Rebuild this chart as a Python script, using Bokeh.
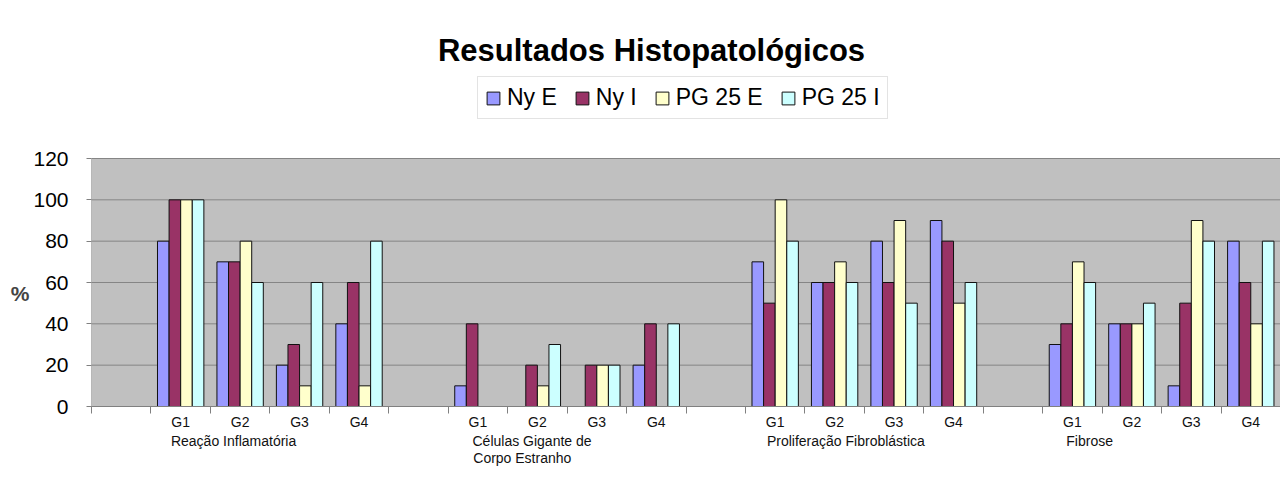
import math
from bokeh.plotting import figure
from bokeh.models import (ColumnDataSource, Range1d, LinearAxis,
                          FixedTicker, Legend, LegendItem, Label)
from bokeh.transform import dodge
from bokeh.embed import file_html
from bokeh.resources import INLINE

# ---------------- data ----------------
title = "Resultados Histopatológicos"
groups = ["Reação Inflamatória", "Células Gigante de\nCorpo Estranho",
          "Proliferação Fibroblástica", "Fibrose"]
grades = ["G1", "G2", "G3", "G4"]
series = ["Ny E", "Ny I", "PG 25 E", "PG 25 I"]
# values per series, in order group x grade (G1..G4 for each group)
ny_e = [80, 70, 20, 40, 10, 0, 0, 20, 70, 60, 80, 90, 30, 40, 10, 80]
ny_i = [100, 70, 30, 60, 40, 20, 20, 40, 50, 60, 60, 80, 40, 40, 50, 60]
pg_e = [100, 80, 10, 10, 0, 10, 20, 0, 100, 70, 90, 50, 70, 40, 90, 40]
pg_i = [100, 60, 60, 80, 0, 30, 20, 40, 80, 60, 50, 60, 60, 50, 80, 80]
y_ticks = [0, 20, 40, 60, 80, 100, 120]

values = [ny_e, ny_i, pg_e, pg_i]
colors = ["#9999FF", "#993366", "#FFFFCC", "#CCFFFF"]
FONT = "Liberation Sans"

# ---------------- layout (canvas pixels) ----------------
W, H = 1280, 470
FRAME_L, FRAME_R, FRAME_T, FRAME_B = 91, 1280, 0, 406   # frame box on canvas
PLOT_TOP_PX = 158                                        # where the 120 line sits
label_center = [1.39, 1.41, 1.69, 0.79]                  # group label centres (slots)

# ---------------- category slots (blank slot before each group) ----------------
slot_labels, group_start = [], []
cols = {f"s{i}": [] for i in range(len(series))}
for gi, g in enumerate(groups):
    slot_labels.append("")
    for si in range(len(series)):
        cols[f"s{si}"].append(math.nan)
    group_start.append(len(slot_labels))
    for j, gr in enumerate(grades):
        slot_labels.append(gr)
        for si in range(len(series)):
            cols[f"s{si}"].append(values[si][gi * len(grades) + j])
n = len(slot_labels)
centers = [i + 0.5 for i in range(n)]
bounds = list(range(n + 1))
cols["x"] = centers
src = ColumnDataSource(cols)

y_top = y_ticks[-1]
y_max = y_top * (FRAME_B - FRAME_T) / (FRAME_B - PLOT_TOP_PX)
slot_px = (FRAME_R - FRAME_L) / n


def px_x(px):
    return (px - FRAME_L) / slot_px


def px_y(py):
    return (FRAME_B - py) / (FRAME_B - PLOT_TOP_PX) * y_top


p = figure(width=W, height=H, output_backend="svg", toolbar_location=None,
           x_range=Range1d(0, n), y_range=Range1d(0, y_max), x_axis_location=None,
           min_border_left=FRAME_L, min_border_right=W - FRAME_R,
           min_border_top=FRAME_T, min_border_bottom=H - FRAME_B)

p.background_fill_color = "white"
p.border_fill_color = "white"
p.outline_line_color = None
p.xgrid.grid_line_color = None
p.ygrid.grid_line_color = None

# plot area (grey) and its horizontal grid lines
p.quad(left=0, right=n, bottom=0, top=y_top, fill_color="#C0C0C0",
       line_color="#808080", line_width=1)
p.segment(x0=[0] * len(y_ticks), x1=[n] * len(y_ticks), y0=y_ticks, y1=y_ticks,
          line_color="#858585", line_width=1)

bw = 0.195
renderers = []
for si, s in enumerate(series):
    r = p.vbar(x=dodge("x", (si - 1.5) * bw), top=f"s{si}",
               bottom=0, width=bw, source=src, fill_color=colors[si],
               line_color="#111111", line_width=1)
    renderers.append(r)

# title (inside the frame area, above the grey plot)
p.add_layout(Label(x=px_x(651), y=px_y(50), text=title, text_font=FONT,
                   text_font_style="bold", text_font_size="31px", text_color="black",
                   text_align="center", text_baseline="alphabetic"))

# y axis
ya = p.yaxis[0]
ya.ticker = FixedTicker(ticks=y_ticks)
ya.major_label_text_font = FONT
ya.major_label_text_font_size = "21px"
ya.major_label_text_color = "black"
ya.major_tick_out = 5
ya.major_tick_in = 0
ya.minor_tick_line_color = None
ya.major_tick_line_color = "#808080"
ya.axis_line_color = None
ya.major_label_standoff = 18
ya.axis_label = "\u00a0\n" * 6 + "%"
ya.axis_label_text_font = FONT
ya.axis_label_text_font_style = "bold"
ya.axis_label_text_font_size = "21px"
ya.axis_label_text_line_height = 1.3
ya.axis_label_standoff = 1
ya.axis_label_orientation = "horizontal"

# x axes: grade labels with boundary ticks, then group labels
ax1 = LinearAxis(ticker=FixedTicker(ticks=centers, minor_ticks=bounds),
                 major_label_overrides={c: lab for c, lab in zip(centers, slot_labels)},
                 major_tick_out=0, major_tick_in=0, major_tick_line_color=None,
                 minor_tick_out=7, minor_tick_in=0, minor_tick_line_color="#808080",
                 axis_line_color="#808080",
                 major_label_text_font=FONT, major_label_text_font_size="14px",
                 major_label_text_color="#111111", major_label_standoff=0)
p.add_layout(ax1, "below")

gpos = [gs + c for gs, c in zip(group_start, label_center)]
glabels = []
for g in groups:
    lines = g.split("\n")
    w = max(len(l) for l in lines)
    glabels.append("\n".join(l + "\u00a0" * int(1.4 * (w - len(l))) for l in lines))
ax2 = LinearAxis(ticker=FixedTicker(ticks=gpos, minor_ticks=[]),
                 major_label_overrides={gp: g for gp, g in zip(gpos, glabels)},
                 major_tick_out=0, major_tick_in=0, major_tick_line_color=None,
                 minor_tick_line_color=None, axis_line_color=None,
                 major_label_text_font=FONT, major_label_text_font_size="14px",
                 major_label_text_line_height=1.1,
                 major_label_text_color="#111111", major_label_standoff=0)
p.add_layout(ax2, "below")

legend = Legend(items=[LegendItem(label=s, renderers=[r]) for s, r in zip(series, renderers)],
                orientation="horizontal", location=(477 - FRAME_L, FRAME_B - 119),
                label_text_font=FONT, label_text_font_size="23px", label_text_color="black",
                glyph_width=16, glyph_height=16, label_standoff=6, spacing=17,
                padding=7, border_line_color="#c8c8c8", background_fill_color="white",
                background_fill_alpha=1.0, label_height=16)
p.add_layout(legend)

open("out.html", "w").write(file_html(p, INLINE))
